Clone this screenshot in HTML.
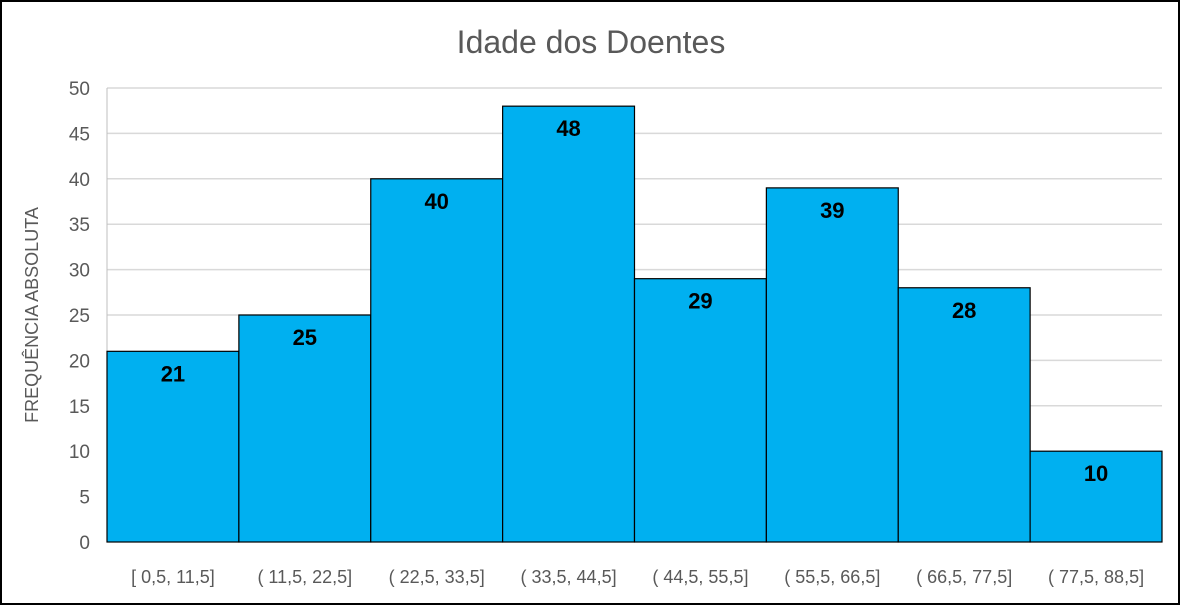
<!DOCTYPE html>
<html><head><meta charset="utf-8"><style>
body{margin:0;background:#fff;}
svg{display:block;font-family:"Liberation Sans",sans-serif;}
</style></head><body>
<svg id="c" width="1182" height="606">
<rect x="1" y="1" width="1178" height="603" fill="#fff" stroke="#000" stroke-width="2"/>
<text x="591" y="53" text-anchor="middle" font-size="32" fill="#595959">Idade dos Doentes</text>
<text transform="translate(38,315) rotate(-90)" text-anchor="middle" font-size="18" fill="#595959">FREQUÊNCIA ABSOLUTA</text>
<g id="grid"></g><g id="bars"></g><g id="labels"></g>
</svg>
<script>
const categories=["[ 0,5,  11,5]","( 11,5,  22,5]","( 22,5,  33,5]","( 33,5,  44,5]","( 44,5,  55,5]","( 55,5,  66,5]","( 66,5,  77,5]","( 77,5,  88,5]"];
const values=[21,25,40,48,29,39,28,10];
const yTicks=[0,5,10,15,20,25,30,35,40,45,50];
const NS="http://www.w3.org/2000/svg";
const x0=107,x1=1162,y0=542,y1=88,yMax=50;
const bw=(x1-x0)/categories.length;
const yS=v=>y0-(y0-y1)*v/yMax;
const xS=i=>x0+i*bw;
function mk(t,a,p){const e=document.createElementNS(NS,t);for(const k in a)e.setAttribute(k,a[k]);p.appendChild(e);return e;}
const g=document.getElementById('grid'),b=document.getElementById('bars'),l=document.getElementById('labels');
yTicks.forEach(v=>{
 if(v>0){const ln=mk('line',{x1:x0,x2:x1,y1:yS(v),y2:yS(v),stroke:'#d9d9d9','stroke-width':1.5},g);
 
 }
 const t=mk('text',{x:90,y:yS(v)+7,'text-anchor':'end','font-size':19,fill:'#595959'},g);
 t.textContent=v;
 
 
});
values.forEach((v,i)=>{
 const r=mk('rect',{x:xS(i),y:yS(v),width:bw,height:y0-yS(v),fill:'#00b0f0',stroke:'#000','stroke-width':1.2},b);
 
 
 const t=mk('text',{x:xS(i)+bw/2,y:yS(v)+30,'text-anchor':'middle','font-size':22,'font-weight':'bold',fill:'#000'},l);
 t.textContent=v;
 
 
 const c=mk('text',{x:xS(i)+bw/2,y:583,'text-anchor':'middle','font-size':18,fill:'#595959','xml:space':'preserve'},l);
 c.textContent=categories[i];
 
 
});
mk('line',{x1:x0,x2:x0,y1:y0,y2:y1,stroke:'#bfbfbf'},g);
</script>
</body></html>
